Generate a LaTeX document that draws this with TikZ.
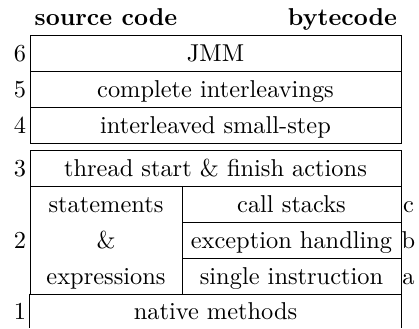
\documentclass[tikz,border=0pt]{standalone}
\usepackage{tikz}

\begin{document}
\begin{tikzpicture}[
    x=0.41pt, y=-0.41pt,
    line width=0.4pt,
    txt/.style={inner sep=0pt, text height=7.5pt, text depth=0.94pt},
    head/.style={txt, font=\bfseries},
    cell/.style={txt, draw, minimum height=14.76pt},
    wide/.style={cell, minimum width=152.11pt},
    half/.style={cell, minimum width=89.79pt}
]
    \useasboundingbox (0,0) rectangle (419,328);

    % column headers
    \node[head] (src) at (106,17) {source code};
    \node[head] (byte) at (342.5,17) {bytecode};

    % upper block
    \node[wide] (jmm) at (215.5,53) {JMM};
    \node[wide] (complete) at (215.5,89) {complete interleavings};
    \node[wide] (smallstep) at (215.5,125) {interleaved small-step};

    % lower block
    \node[wide] (thread) at (215.5,168) {thread start \& finish actions};
    \node[cell, minimum width=62.32pt, minimum height=44.28pt] (stmts) at (106,240) {};
    \node[txt] (stmtsA) at (106,204) {statements};
    \node[txt] (stmtsB) at (106,240) {\&};
    \node[txt] (stmtsC) at (106,276) {expressions};
    \node[half] (calls) at (291.5,204) {call stacks};
    \node[half] (exc) at (291.5,240) {exception handling};
    \node[half] (single) at (291.5,276) {single instruction};
    \node[txt, minimum width=152.11pt, minimum height=13.94pt] (native) at (215.5,311) {native methods};
    \draw (native.north west) -- (native.south west)
          (native.north east) -- (native.south east);

    % level numbers and sub-levels
    \foreach \n/\y in {6/53,5/89,4/125,3/168,2/240,1/311}
        \node[txt] (lvl\n) at (20,\y) {\n};
    \foreach \s/\y in {c/204,b/240,a/276}
        \node[txt] (sub\s) at (408.5,\y) {\s};
\end{tikzpicture}
\end{document}
